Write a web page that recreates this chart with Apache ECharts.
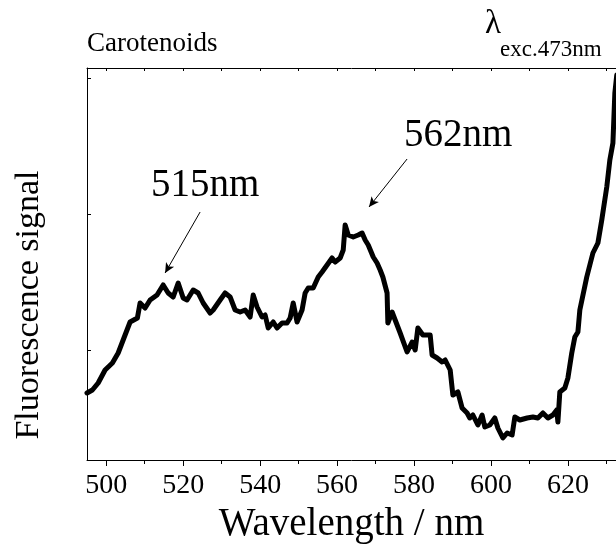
<!DOCTYPE html>
<html>
<head>
<meta charset="utf-8">
<script src="https://cdn.jsdelivr.net/npm/echarts@6/dist/echarts.min.js"></script>
<style>
html,body{margin:0;padding:0;background:#fff;}
#chart{width:616px;height:544px;}
</style>
</head>
<body>
<div id="chart"></div>
<script>
// Wavelength (nm)
const wavelength = [
  495.0, 496.4, 497.9, 499.7, 501.6, 503.1, 504.4, 506.2, 508.1, 508.8,
  510.1, 511.4, 513.2, 514.8, 516.1, 517.4, 518.7, 520.0, 521.0, 522.6,
  523.9, 525.2, 527.0, 527.8, 529.6, 530.9, 532.2, 533.5, 534.8, 536.1,
  537.4, 538.2, 539.2, 540.5, 541.3, 542.1, 543.4, 544.4, 545.7, 547.0,
  547.8, 548.6, 549.6, 550.9, 551.7, 552.5, 553.8, 555.1, 556.1, 557.4,
  558.7, 559.5, 560.8, 561.6, 562.1, 562.9, 564.2, 565.5, 566.5, 567.3,
  568.1, 569.4, 570.4, 571.2, 571.9, 573.0, 573.2, 574.3, 575.1, 576.4,
  578.2, 579.5, 580.3, 581.0, 582.3, 584.2, 584.7, 586.0, 587.3, 588.1,
  589.4, 590.1, 591.4, 592.5, 593.8, 594.5, 595.3, 596.6, 597.7, 598.4,
  599.7, 601.0, 601.8, 603.1, 604.2, 605.5, 606.2, 607.5, 609.4, 610.9,
  612.2, 613.5, 614.8, 616.1, 617.1, 617.4, 617.9, 619.2, 620.0, 621.0,
  621.8, 622.6, 623.1, 624.9, 626.5, 627.8, 628.8, 630.1, 630.9, 631.7,
  632.2, 632.7
];
// Fluorescence signal (a.u.)
const signal = [
  67, 70, 77, 90, 97, 107, 120, 138, 142, 157,
  152, 160, 165, 175, 167, 163, 177, 162, 160, 170,
  167, 157, 147, 150, 160, 167, 163, 150, 148, 150,
  143, 165, 153, 143, 145, 132, 138, 132, 137, 137,
  142, 157, 138, 150, 167, 172, 172, 183, 188, 195,
  202, 198, 202, 210, 235, 225, 223, 225, 227, 220,
  215, 203, 197, 190, 183, 167, 137, 148, 140, 127,
  108, 118, 110, 132, 125, 125, 105, 102, 98, 100,
  90, 65, 68, 52, 47, 42, 45, 35, 45, 33,
  35, 42, 32, 22, 27, 25, 43, 40, 42, 43,
  42, 47, 42, 45, 50, 38, 68, 72, 82, 107,
  123, 128, 150, 183, 207, 217, 240, 273, 300, 317,
  367, 385
];
const majorTicks = [500, 520, 540, 560, 580, 600, 620];
const minorTicks = [510, 530, 550, 570, 590, 610, 630];
const topTicks = [500, 510, 520, 530, 540, 550, 560, 570, 580, 590, 600, 610, 620, 630];
const yTicks = [110, 246, 382];

const serif = '"Liberation Serif", "DejaVu Serif", serif';
const chart = echarts.init(document.getElementById('chart'), null, {renderer: 'canvas'});
const data = wavelength.map((w, i) => [w, signal[i]]);

chart.setOption({
  animation: false,
  backgroundColor: '#fff',
  grid: {left: 87, top: 68, right: 0, bottom: 84, containLabel: false, outerBoundsMode: 'none'},
  xAxis: [
    {
      type: 'value', position: 'bottom', min: 495, max: 632.5,
      name: 'Wavelength / nm', nameLocation: 'middle', nameGap: 43,
      nameTextStyle: {fontFamily: serif, fontSize: 39, color: '#000'},
      axisLine: {show: true, lineStyle: {color: '#000', width: 1}},
      axisTick: {show: true, customValues: majorTicks, length: 6, lineStyle: {color: '#000'}},
      axisLabel: {show: true, customValues: majorTicks, fontFamily: serif, fontSize: 28, color: '#000', margin: 12},
      splitLine: {show: false}
    },
    {
      type: 'value', position: 'bottom', min: 495, max: 632.5, gridIndex: 0,
      axisLine: {show: false},
      axisTick: {show: true, customValues: minorTicks, length: 4, lineStyle: {color: '#000'}},
      axisLabel: {show: false},
      splitLine: {show: false}
    },
    {
      type: 'value', position: 'top', min: 495, max: 632.5, gridIndex: 0,
      axisLine: {show: true, lineStyle: {color: '#000', width: 1}},
      axisTick: {show: true, inside: true, customValues: topTicks, length: 3, lineStyle: {color: '#000'}},
      axisLabel: {show: false},
      splitLine: {show: false}
    }
  ],
  yAxis: {
    type: 'value', min: 0, max: 392,
    axisLine: {show: true, lineStyle: {color: '#000', width: 1}},
    axisTick: {show: true, inside: true, customValues: yTicks, length: 4, lineStyle: {color: '#000'}},
    axisLabel: {show: false},
    splitLine: {show: false}
  },
  series: [{
    type: 'line',
    xAxisIndex: 0,
    data: data,
    showSymbol: false,
    smooth: false,
    lineStyle: {color: '#000', width: 5, cap: 'round', join: 'round'},
    markLine: {
      silent: true,
      symbol: ['none', 'arrow'],
      symbolSize: [7, 10],
      label: {show: false},
      lineStyle: {color: '#000', width: 1, type: 'solid'},
      data: [
        [{coord: [524.4, 248]}, {coord: [515.3, 187]}],
        [{coord: [578.2, 301]}, {coord: [568.3, 253]}]
      ]
    }
  }],
  graphic: [
    {type: 'text', x: 29, y: 305, rotation: Math.PI / 2,
     style: {text: 'Fluorescence signal', font: '34px ' + serif, fill: '#000', align: 'center', verticalAlign: 'middle'}},
    {type: 'text', left: 87, top: 30, style: {text: 'Carotenoids', font: '27px ' + serif, fill: '#000'}},
    {type: 'text', left: 485, top: 8, style: {text: 'λ', font: '33px ' + serif, fill: '#000'}},
    {type: 'text', left: 500, top: 38, style: {text: 'exc.473nm', font: '23px ' + serif, fill: '#000'}},
    {type: 'text', left: 151, top: 166, style: {text: '515nm', font: '39px ' + serif, fill: '#000'}},
    {type: 'text', left: 404, top: 116, style: {text: '562nm', font: '39px ' + serif, fill: '#000'}}
  ]
});
</script>
</body>
</html>
